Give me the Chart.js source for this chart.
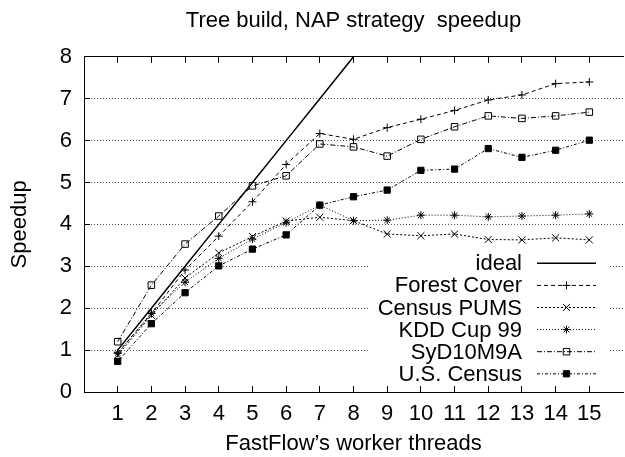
<!DOCTYPE html>
<html>
<head>
<meta charset="utf-8">
<script src="https://cdn.jsdelivr.net/npm/chart.js@4/dist/chart.umd.min.js"></script>
<style>
  html, body { margin: 0; padding: 0; overflow: hidden; background: #fff; }
  #wrap { width: 625px; height: 457px; overflow: hidden; }
</style>
</head>
<body>
<div id="wrap"><canvas id="c" width="629" height="457"></canvas></div>
<script>
// ---- data ----
const threads      = [1, 2, 3, 4, 5, 6, 7, 8, 9, 10, 11, 12, 13, 14, 15];
const idealThreads = [1, 2, 3, 4, 5, 6, 7, 8];
const idealSpeedup = [1, 2, 3, 4, 5, 6, 7, 8];
const forestCover  = [0.93, 1.87, 2.91, 3.72, 4.54, 5.43, 6.17, 6.03, 6.31, 6.51, 6.72, 6.97, 7.09, 7.36, 7.40];
const censusPums   = [0.88, 1.83, 2.72, 3.32, 3.71, 4.08, 4.17, 4.09, 3.77, 3.73, 3.77, 3.64, 3.63, 3.68, 3.63];
const kddCup99     = [0.93, 1.88, 2.62, 3.19, 3.65, 4.04, 4.46, 4.09, 4.10, 4.22, 4.22, 4.18, 4.20, 4.22, 4.25];
const syd10m9a     = [1.20, 2.55, 3.53, 4.20, 4.92, 5.16, 5.92, 5.85, 5.63, 6.03, 6.33, 6.59, 6.53, 6.59, 6.68];
const usCensus     = [0.73, 1.63, 2.37, 3.01, 3.41, 3.75, 4.46, 4.66, 4.82, 5.29, 5.32, 5.81, 5.60, 5.77, 6.01];
const seriesLabels = ['ideal', 'Forest Cover', 'Census PUMS', 'KDD Cup 99', 'SyD10M9A', 'U.S. Census'];
const xTickValues  = [1, 2, 3, 4, 5, 6, 7, 8, 9, 10, 11, 12, 13, 14, 15];
const yTickValues  = [0, 1, 2, 3, 4, 5, 6, 7, 8];
const chartTitle   = 'Tree build, NAP strategy  speedup';
const xTitle       = 'FastFlow\u2019s worker threads';
const yTitle       = 'Speedup';

const pts = (xs, ys) => xs.map((x, i) => ({x: x, y: ys[i]}));

Chart.defaults.font.family = "'Liberation Sans', Arial, sans-serif";
Chart.defaults.font.size = 22;
Chart.defaults.color = '#000';

function mkSet(label, xs, ys, dash, style, radius, fill, width) {
  return {
    label: label,
    data: pts(xs, ys),
    xAxisID: 'x', yAxisID: 'y',
    borderColor: '#000',
    borderWidth: width || 1,
    borderDash: dash,
    pointStyle: style || 'circle',
    pointRadius: radius || 0,
    pointHoverRadius: radius || 0,
    pointBorderColor: '#000',
    pointBorderWidth: 1,
    pointBackgroundColor: fill || 'rgba(0,0,0,0)',
    backgroundColor: fill || 'rgba(0,0,0,0)',
    fill: false,
    tension: 0
  };
}

const datasets = [
  mkSet(seriesLabels[0], idealThreads, idealSpeedup, [], false, 0, null, 1.5),
  mkSet(seriesLabels[1], threads, forestCover, [4, 3], 'cross', 4),
  mkSet(seriesLabels[2], threads, censusPums, [2, 2], 'crossRot', 5),
  mkSet(seriesLabels[3], threads, kddCup99, [1, 2], 'star', 4),
  mkSet(seriesLabels[4], threads, syd10m9a, [5, 2, 1, 2], 'rect', 4.6),
  mkSet(seriesLabels[5], threads, usCensus, [3, 2, 1, 2], 'rect', 4.4, '#000')
];

// legend drawn in gnuplot style (text right-aligned, sample on the right)
const gnuLegend = {
  id: 'gnuLegend',
  afterDatasetsDraw(chart) {
    const ctx = chart.ctx;
    const ca = chart.chartArea;
    const sampleRight = ca.right - 27;
    const sampleLeft = sampleRight - 59;
    const textRight = sampleLeft - 15;
    const rowStep = 22.1;
    const firstRow = ca.bottom - 128.7;
    ctx.save();
    ctx.fillStyle = '#fff';
    ctx.fillRect(368, firstRow - 11.5, sampleRight + 14 - 368, rowStep * 6 + 1);
    ctx.font = "22px 'Liberation Sans', Arial, sans-serif";
    ctx.textAlign = 'right';
    ctx.textBaseline = 'middle';
    chart.data.datasets.forEach((ds, i) => {
      const y = firstRow + i * rowStep;
      ctx.fillStyle = '#000';
      ctx.fillText(ds.label, textRight, y + 1);
      ctx.strokeStyle = '#000';
      ctx.lineWidth = ds.borderWidth;
      ctx.setLineDash(ds.borderDash || []);
      ctx.beginPath();
      ctx.moveTo(sampleLeft, y);
      ctx.lineTo(sampleRight, y);
      ctx.stroke();
      ctx.setLineDash([]);
      if (ds.pointRadius > 0) {
        ctx.lineWidth = 1;
        ctx.fillStyle = ds.pointBackgroundColor;
        ctx.strokeStyle = '#000';
        Chart.helpers.drawPoint(ctx, {pointStyle: ds.pointStyle, rotation: 0, radius: ds.pointRadius, borderWidth: 1}, (sampleLeft + sampleRight) / 2, y);
      }
    });
    ctx.restore();
  }
};

new Chart(document.getElementById('c'), {
  type: 'line',
  data: { datasets: datasets },
  plugins: [gnuLegend],
  options: {
    responsive: false,
    animation: false,
    devicePixelRatio: 1,
    layout: { padding: 0 },
    plugins: {
      legend: { display: false },
      tooltip: { enabled: false },
      title: {
        display: true,
        text: chartTitle,
        fullSize: false,
        color: '#000',
        font: { size: 22, weight: 'normal' },
        padding: { top: 8, bottom: 22.4 }
      }
    },
    scales: {
      x: {
        type: 'linear', position: 'bottom', min: 0, max: 16,
        afterBuildTicks: s => { s.ticks = xTickValues.map(v => ({value: v})); },
        afterFit: s => { s.height = 65; },
        ticks: { autoSkip: false, maxRotation: 0, padding: 15, font: { size: 22 } },
        grid: { drawOnChartArea: false, drawTicks: true, tickLength: -6, tickColor: '#000', color: '#000' },
        border: { display: true, color: '#000', width: 1 },
        title: { display: true, text: xTitle, font: { size: 22 }, padding: { top: 0, bottom: 0 } }
      },
      x2: {
        type: 'linear', position: 'top', min: 0, max: 16,
        afterBuildTicks: s => { s.ticks = xTickValues.map(v => ({value: v})); },
        afterFit: s => { s.height = 0; },
        ticks: { display: false },
        grid: { drawOnChartArea: false, drawTicks: true, tickLength: -6, tickColor: '#000', color: '#000' },
        border: { display: true, color: '#000', width: 1 }
      },
      y: {
        type: 'linear', position: 'left', min: 0, max: 8,
        afterBuildTicks: s => { s.ticks = yTickValues.map(v => ({value: v})); },
        afterFit: s => { s.width = 84; },
        ticks: { padding: 18, font: { size: 22 } },
        grid: { drawOnChartArea: true, drawTicks: true, tickLength: -6, tickColor: '#000', color: '#555', tickBorderDash: [] },
        border: { display: true, color: '#000', width: 1, dash: [1, 2] },
        title: { display: true, text: yTitle, font: { size: 22 }, padding: { top: 7, bottom: 0 } }
      }
    }
  }
});
</script>
</body>
</html>
